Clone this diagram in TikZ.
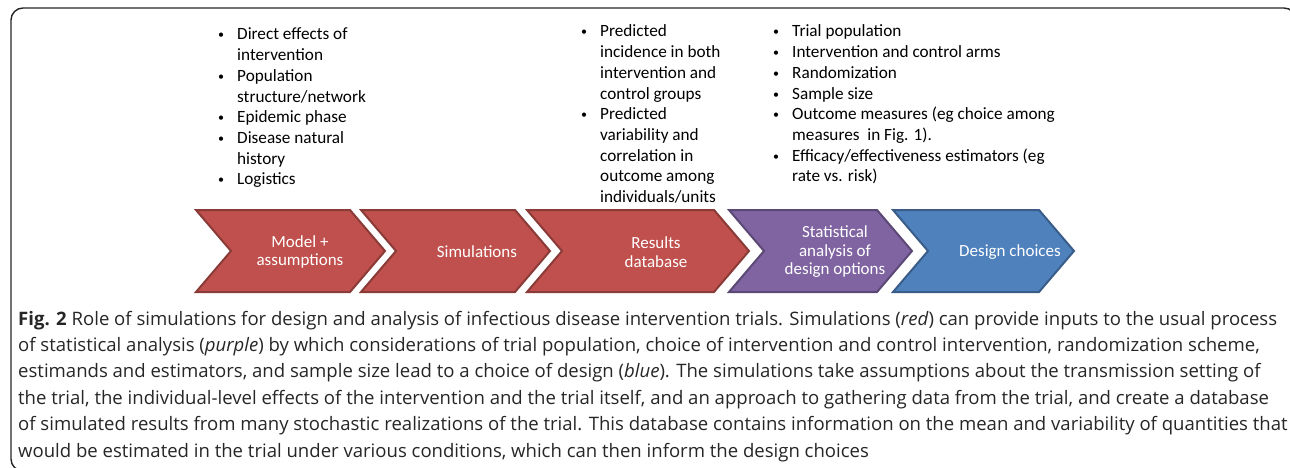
\documentclass[tikz,border=0pt]{standalone}
\usepackage{fontspec}
\setmainfont{Carlito}
\newfontfamily\capfont{Open Sans}
\usepackage{array}
\definecolor{simred}{HTML}{C0504D}
\definecolor{anapurple}{HTML}{8064A2}
\definecolor{desblue}{HTML}{4F81BD}
\newcommand\bul{\raisebox{1pt}{\fontsize{12}{12}\selectfont •}}
\tikzset{
  chev/.style={line width=2pt, line join=miter},
  chevtext/.style={text=white, align=center, inner sep=0pt,
    font=\fontsize{17}{18.5}\selectfont},
  listtext/.style={anchor=base west, inner sep=0pt,
    font=\fontsize{17.2}{20.7}\selectfont},
  captext/.style={anchor=base west, inner sep=0pt, text=black!85,
    font=\capfont\fontsize{18.55}{22}\selectfont}
}
\begin{document}
\begin{tikzpicture}[x=1pt, y=-1pt]
\useasboundingbox (0,0) rectangle (1290,468);
\clip (0,0) rectangle (1290,468);
% frame round figure and caption
\draw[black!85, line width=1.4pt, rounded corners=12pt]
  (1296,471) -- (1296,8) -- (11,8) -- (11,471) -- (40,471);

% chevrons: left x, top right x, colour
\foreach \l/\r/\f in {196/350/simred, 361/515/simred, 527/714/simred,
                       729/877/anapurple, 893/1039/desblue}
  \draw[chev, fill=\f, draw=\f!72!black]
    (\l,210) -- (\r,210) -- (\r+35,251) -- (\r,292) -- (\l,292)
    -- (\l+35,251) -- cycle;

\node[chevtext] (model) at (300,252) {Model +\\assumptions};
\node[chevtext] (sims) at (477,252) {Simulations};
\node[chevtext] (results) at (656,252) {Results\\database};
\node[chevtext] (stats) at (835,252) {Statistical\\analysis of\\design options};
\node[chevtext] (design) at (1010,252) {Design choices};

% bullet lists above the chevrons
\node[listtext] (inputs) at (218,40) {%
  \begin{tabular}[t]{@{}p{19pt}@{}l@{}}
  \bul & Direct effects of\\
       & intervention\\
  \bul & Population\\
       & structure/network\\
  \bul & Epidemic phase\\
  \bul & Disease natural\\
       & history\\
  \bul & Logistics
  \end{tabular}};
\node[listtext] (outputs) at (581,37) {%
  \begin{tabular}[t]{@{}p{19pt}@{}l@{}}
  \bul & Predicted\\
       & incidence in both\\
       & intervention and\\
       & control groups\\
  \bul & Predicted\\
       & variability and\\
       & correlation in\\
       & outcome among\\
       & individuals/units
  \end{tabular}};
\node[listtext] (options) at (773,37) {%
  \begin{tabular}[t]{@{}p{19pt}@{}l@{}}
  \bul & Trial population\\
  \bul & Intervention and control arms\\
  \bul & Randomization\\
  \bul & Sample size\\
  \bul & Outcome measures (eg choice among\\
       & measures~ in Fig. 1).\\
  \bul & Efficacy/effectiveness estimators (eg\\
       & rate vs. risk)
  \end{tabular}};

% caption
\foreach \txt [count=\i from 0] in {
  {\textbf{Fig. 2} Role of simulations for design and analysis of infectious disease intervention trials. Simulations (\textit{red}) can provide inputs to the usual process},
  {of statistical analysis (\textit{purple}) by which considerations of trial population, choice of intervention and control intervention, randomization scheme,},
  {estimands and estimators, and sample size lead to a choice of design (\textit{blue}). The simulations take assumptions about the transmission setting of},
  {the trial, the individual-level effects of the intervention and the trial itself, and an approach to gathering data from the trial, and create a database},
  {of simulated results from many stochastic realizations of the trial. This database contains information on the mean and variability of quantities that},
  {would be estimated in the trial under various conditions, which can then inform the design choices}}
  \node[captext] (cap\i) at (18,325+26.4*\i) {\txt};
\end{tikzpicture}
\end{document}
